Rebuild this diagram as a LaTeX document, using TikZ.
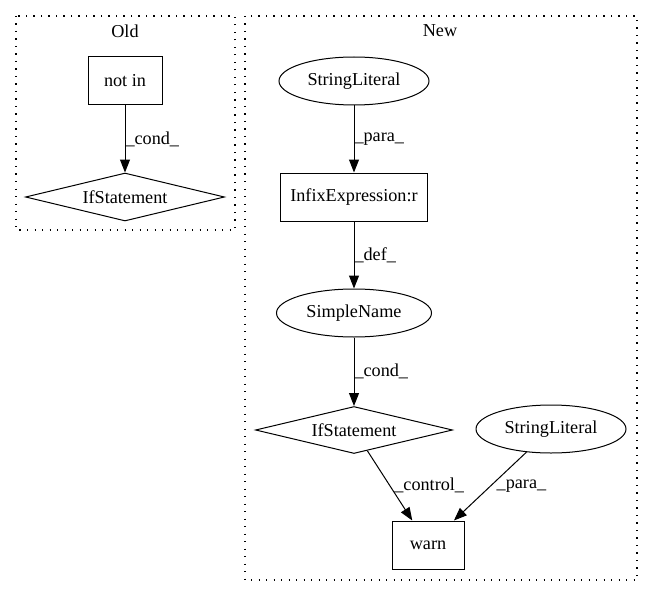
\documentclass[tikz,border=0pt]{standalone}
\usepackage{fontspec}
\setmainfont{Liberation Serif}
\usetikzlibrary{shapes.geometric,arrows.meta}
\begin{document}
\begin{tikzpicture}[x=1pt,y=-1pt,
  every node/.style={font=\fontsize{18.2}{20}\selectfont},
  cluster/.style={draw, line width=1.1pt, dash pattern=on 1.3pt off 6.2pt},
  boxnode/.style={draw, line width=1pt, rectangle, inner sep=0pt},
  ellnode/.style={draw, line width=1pt, ellipse, inner sep=0pt},
  dianode/.style={draw, line width=1pt, diamond, inner sep=0pt, aspect=4},
  edge/.style={draw, line width=1pt, -{Triangle[length=13pt,width=10pt]}},
  lbl/.style={inner sep=0pt, anchor=west}
]
\useasboundingbox (0,0) rectangle (652,596);
% clusters
\draw[cluster] (16,16) rectangle (235,230);
\node (oldlbl) at (125,31) {Old};
\draw[cluster] (245,16) rectangle (637,580);
\node (newlbl) at (440,31) {New};
% Old nodes
\node[boxnode, minimum width=74pt, minimum height=48pt] (notin) at (125,81) {not in};
\node[dianode, minimum width=199pt, minimum height=48pt] (if1) at (125,197) {IfStatement};
\draw[edge] (notin) -- node[lbl] {\_cond\_} (if1);
% New nodes
\node[ellnode, minimum width=150pt, minimum height=48pt] (sl1) at (354,81) {StringLiteral};
\node[boxnode, minimum width=147pt, minimum height=48pt] (infix) at (354,197) {InfixExpression:r};
\node[ellnode, minimum width=155pt, minimum height=48pt] (sn) at (354,313) {SimpleName};
\node[dianode, minimum width=197pt, minimum height=47pt] (if2) at (354,430) {IfStatement};
\node[ellnode, minimum width=150pt, minimum height=48pt] (sl2) at (551,429) {StringLiteral};
\node[boxnode, minimum width=72pt, minimum height=48pt] (warn) at (428,545) {warn};
\draw[edge] (sl1) -- node[lbl] {\_para\_} (infix);
\draw[edge] (infix) -- node[lbl] {\_def\_} (sn);
\draw[edge] (sn) -- node[lbl] {\_cond\_} (if2);
\draw[edge] (if2) -- node[lbl, pos=0.5, xshift=4pt] {\_control\_} (warn);
\draw[edge] (sl2) -- node[lbl, pos=0.5, xshift=6pt] {\_para\_} (warn);
\end{tikzpicture}
\end{document}
